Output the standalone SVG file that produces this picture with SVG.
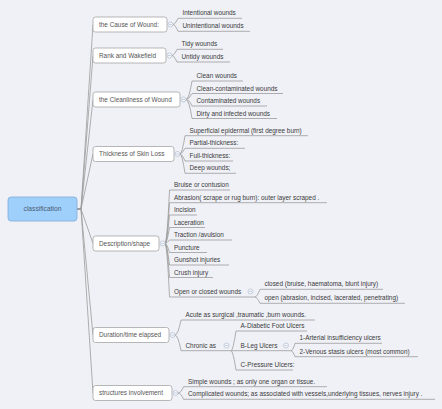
<svg xmlns="http://www.w3.org/2000/svg" width="442" height="409" viewBox="0 0 442 409">
<style>
text{font-family:"Liberation Sans",Arial,sans-serif;font-size:6.4px;fill:#3a3a3a}
.bt{fill:#555}
.rt{font-size:6.7px;fill:#4a5a72}
.box{fill:#ffffff;stroke:#a4a4a4;stroke-width:0.8}
.ul{stroke:#9c9c9c;stroke-width:0.8;fill:none}
.cn{stroke:#9c9c9c;stroke-width:0.8;fill:none}
</style>
<defs>
<g id="minus"><circle cx="0" cy="0" r="2.5" fill="#f6f7fb" stroke="#aebbd0" stroke-width="0.7"/><path d="M-1.4,0H1.4" stroke="#aebbd0" stroke-width="0.7"/></g>
</defs>
<rect width="442" height="409" fill="#f0f1f7"/>
<g id="connectors">
<path class="cn" d="M77,209H81L93,24.5"/>
<path class="cn" d="M77,209H81L93,55.5"/>
<path class="cn" d="M77,209H81L93,99.5"/>
<path class="cn" d="M77,209H81L93,154"/>
<path class="cn" d="M77,209H81L93,243.5"/>
<path class="cn" d="M77,209H81L93,335"/>
<path class="cn" d="M77,209H81L93,393"/>
<path class="cn" d="M173,24.5Q175,24.5 178,18.3"/>
<path class="cn" d="M173,24.5Q175,24.5 178,31.3"/>
<path class="cn" d="M172,55.5Q174,55.5 177,49.3"/>
<path class="cn" d="M172,55.5Q174,55.5 177,62"/>
<path class="cn" d="M186,99.5Q189,99.5 192,81"/>
<path class="cn" d="M186,99.5Q189,99.5 192,93.5"/>
<path class="cn" d="M186,99.5Q189,99.5 192,106"/>
<path class="cn" d="M186,99.5Q189,99.5 192,118.5"/>
<path class="cn" d="M180,154Q182,154 185,135.7"/>
<path class="cn" d="M180,154Q182,154 185,148.3"/>
<path class="cn" d="M180,154Q182,154 185,161"/>
<path class="cn" d="M180,154Q182,154 185,173.3"/>
<path class="cn" d="M165,243.5Q167,243.5 169.5,190"/>
<path class="cn" d="M165,243.5Q167,243.5 169.5,202.7"/>
<path class="cn" d="M165,243.5Q167,243.5 169.5,215"/>
<path class="cn" d="M165,243.5Q167,243.5 169.5,227.5"/>
<path class="cn" d="M165,243.5Q167,243.5 169.5,240"/>
<path class="cn" d="M165,243.5Q167,243.5 169.5,252.5"/>
<path class="cn" d="M165,243.5Q167,243.5 169.5,265"/>
<path class="cn" d="M165,243.5Q167,243.5 169.5,277.5"/>
<path class="cn" d="M165,243.5Q167,243.5 169.5,297"/>
<path class="cn" d="M255,297Q257,297 260,289.3"/>
<path class="cn" d="M255,297Q257,297 260,303.3"/>
<path class="cn" d="M175,335Q178,335 181,320"/>
<path class="cn" d="M175,335Q178,335 181,350.7"/>
<path class="cn" d="M231,350.7Q233,350.7 236,331"/>
<path class="cn" d="M231,350.7H236"/>
<path class="cn" d="M231,350.7Q233,350.7 236,370"/>
<path class="cn" d="M291,350.7Q293,350.7 295,343.3"/>
<path class="cn" d="M291,350.7Q293,350.7 295,356.7"/>
<path class="cn" d="M178,393Q181,393 183.5,386.7"/>
<path class="cn" d="M178,393Q181,393 183.5,399.3"/>
</g>
<g id="root">
<rect x="8" y="197" width="69" height="24" rx="3" fill="#9fd0fb" stroke="#80abd8" stroke-width="0.8"/>
<text class="rt" x="42.5" y="211.3" text-anchor="middle">classification</text>
</g>
<g id="b-cause">
<rect class="box" x="93" y="17" width="74" height="15" rx="2.5"/>
<text class="bt" x="99" y="26.8">the Cause of Wound:</text>
<use href="#minus" x="170.5" y="24.5"/>
</g>
<g id="b-rank">
<rect class="box" x="93" y="48" width="73" height="15" rx="2.5"/>
<text class="bt" x="99" y="57.8">Rank and Wakefield</text>
<use href="#minus" x="169.5" y="55.5"/>
</g>
<g id="b-clean">
<rect class="box" x="93" y="92" width="87" height="15" rx="2.5"/>
<text class="bt" x="99" y="101.8">the Cleanliness of Wound</text>
<use href="#minus" x="183.5" y="99.5"/>
</g>
<g id="b-thick">
<rect class="box" x="93" y="146.5" width="81" height="15" rx="2.5"/>
<text class="bt" x="99" y="156.3">Thickness of Skin Loss</text>
<use href="#minus" x="177.5" y="154"/>
</g>
<g id="b-desc">
<rect class="box" x="93" y="236" width="66" height="15" rx="2.5"/>
<text class="bt" x="99" y="245.8">Description/shape</text>
<use href="#minus" x="162.5" y="243.5"/>
</g>
<g id="b-dur">
<rect class="box" x="93" y="327.5" width="76" height="15" rx="2.5"/>
<text class="bt" x="99" y="337.3">Duration/time elapsed</text>
<use href="#minus" x="172.5" y="335"/>
</g>
<g id="b-struct">
<rect class="box" x="93" y="385.5" width="79" height="15" rx="2.5"/>
<text class="bt" x="99" y="395.3">structures involvement</text>
<use href="#minus" x="175.5" y="393"/>
</g>
<g id="l-intentional"><path class="ul" d="M178,18.3H242"/><text x="182.5" y="15.3">Intentional wounds</text></g>
<g id="l-unintentional"><path class="ul" d="M178,31.3H250"/><text x="182.5" y="28.3">Unintentional wounds</text></g>
<g id="l-tidy"><path class="ul" d="M177,49.3H223"/><text x="181.5" y="46.3">Tidy wounds</text></g>
<g id="l-untidy"><path class="ul" d="M177,62H230"/><text x="181.5" y="59">Untidy wounds</text></g>
<g id="l-cleanw"><path class="ul" d="M192,81H243"/><text x="196.5" y="78">Clean wounds</text></g>
<g id="l-cleancont"><path class="ul" d="M192,93.5H283"/><text x="196.5" y="90.5">Clean-contaminated wounds</text></g>
<g id="l-cont"><path class="ul" d="M192,106H267"/><text x="196.5" y="103">Contaminated wounds</text></g>
<g id="l-dirty"><path class="ul" d="M192,118.5H277"/><text x="196.5" y="115.5">Dirty and infected wounds</text></g>
<g id="l-superficial"><path class="ul" d="M185,135.7H308"/><text x="189.5" y="132.7">Superficial epidermal (first degree burn)</text></g>
<g id="l-partial"><path class="ul" d="M185,148.3H245"/><text x="189.5" y="145.3">Partial-thickness:</text></g>
<g id="l-full"><path class="ul" d="M185,161H233"/><text x="189.5" y="158">Full-thickness:</text></g>
<g id="l-deep"><path class="ul" d="M185,173.3H236"/><text x="189.5" y="170.3">Deep wounds;</text></g>
<g id="l-bruise"><path class="ul" d="M169.5,190H230"/><text x="174" y="187">Bruise or contusion</text></g>
<g id="l-abrasion"><path class="ul" d="M169.5,202.7H327"/><text x="174" y="199.7">Abrasion( scrape or rug burn): outer layer scraped .</text></g>
<g id="l-incision"><path class="ul" d="M169.5,215H197"/><text x="174" y="212">Incision</text></g>
<g id="l-laceration"><path class="ul" d="M169.5,227.5H205"/><text x="174" y="224.5">Laceration</text></g>
<g id="l-traction"><path class="ul" d="M169.5,240H232"/><text x="174" y="237">Traction /avulsion</text></g>
<g id="l-puncture"><path class="ul" d="M169.5,252.5H207"/><text x="174" y="249.5">Puncture</text></g>
<g id="l-gunshot"><path class="ul" d="M169.5,265H229"/><text x="174" y="262">Gunshot injuries</text></g>
<g id="l-crush"><path class="ul" d="M169.5,277.5H213"/><text x="174" y="274.5">Crush injury</text></g>
<g id="l-openclosed"><path class="ul" d="M169.5,297H255"/><text x="174" y="294">Open or closed wounds</text><use href="#minus" x="250.5" y="291.5"/></g>
<g id="l-closed"><path class="ul" d="M260,289.3H383"/><text x="264.5" y="286.3">closed (bruise, haematoma, blunt injury)</text></g>
<g id="l-open"><path class="ul" d="M260,303.3H405"/><text x="264.5" y="300.3">open (abrasion, incised, lacerated, penetrating)</text></g>
<g id="l-acute"><path class="ul" d="M181,320H315"/><text x="185.5" y="317">Acute as surgical ,traumatic ,burn wounds.</text></g>
<g id="l-chronic"><path class="ul" d="M181,350.7H231"/><text x="185.5" y="347.7">Chronic as</text><use href="#minus" x="226.5" y="345.5"/></g>
<g id="l-diabetic"><path class="ul" d="M236,331H307"/><text x="240.5" y="328">A-Diabetic Foot Ulcers</text></g>
<g id="l-leg"><path class="ul" d="M236,350.7H291"/><text x="240.5" y="347.7">B-Leg Ulcers</text><use href="#minus" x="286" y="345.5"/></g>
<g id="l-pressure"><path class="ul" d="M236,370H293"/><text x="240.5" y="367">C-Pressure Ulcers:</text></g>
<g id="l-arterial"><path class="ul" d="M295,343.3H382"/><text x="299.5" y="340.3">1-Arterial insufficiency ulcers</text></g>
<g id="l-venous"><path class="ul" d="M295,356.7H418"/><text x="299.5" y="353.7">2-Venous stasis ulcers (most common)</text></g>
<g id="l-simple"><path class="ul" d="M183.5,386.7H327"/><text x="188" y="383.7">Simple wounds ; as only one organ or tissue.</text></g>
<g id="l-complicated"><path class="ul" d="M183.5,399.3H435"/><text x="188" y="396.3">Complicated wounds; as associated with vessels,underlying tissues, nerves injury .</text></g>
</svg>
